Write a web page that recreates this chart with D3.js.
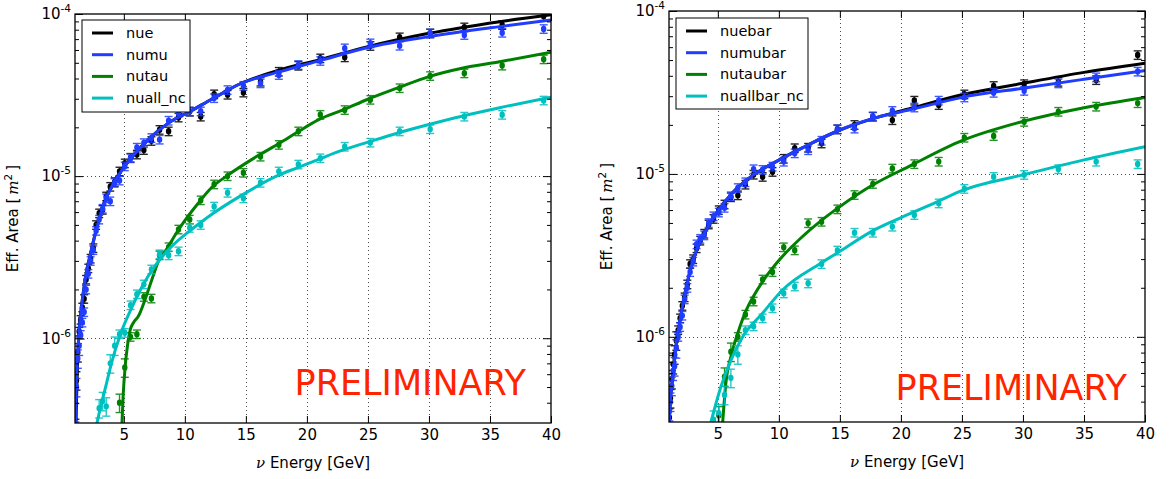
<!DOCTYPE html>
<html>
<head>
<meta charset="utf-8">
<script src="https://cdn.jsdelivr.net/npm/d3@7"></script>
<style>
  body { margin: 0; background: #fff; }
  text { font-family: "DejaVu Sans", sans-serif; }
</style>
</head>
<body>
<svg id="chart" width="1169" height="479"></svg>
<script>
// Bin centres [GeV], shared by both panels
const energies = [1.03, 1.12, 1.23, 1.34, 1.46, 1.60, 1.75, 1.91, 2.09, 2.28, 2.50, 2.73, 2.98, 3.26, 3.56, 3.89, 4.25, 4.65, 5.08, 5.55, 6.07, 6.64, 7.26, 7.93, 8.67, 9.48, 10.4, 11.3, 12.4, 13.5, 14.8, 16.2, 17.7, 19.3, 21.1, 23.1, 25.2, 27.6, 30.1, 32.9, 36.0, 39.4];

// Left panel: neutrinos, measured points (null = no point)
const nuePts = [2.8e-7, 5.5e-7, 8.2e-7, 1.1e-6, 1.3e-6, 1.55e-6, 1.75e-6, 2.3e-6, 2.7e-6, 3.1e-6, 3.6e-6, 5.0e-6, 5.9e-6, 6.2e-6, 7.5e-6, 8.6e-6, 9.2e-6, 1.07e-5, 1.2e-5, 1.3e-5, 1.36e-5, 1.45e-5, 1.65e-5, 1.93e-5, 1.89e-5, 2.3e-5, 2.5e-5, 2.33e-5, 3.2e-5, 3.18e-5, 3.28e-5, 3.83e-5, 4.41e-5, 4.8e-5, 5.33e-5, 5.41e-5, 6.36e-5, 7.19e-5, 7.6e-5, 8.28e-5, 8.56e-5, 9.7e-5];
const numuPts = [3.5e-7, 5.0e-7, 7.5e-7, 9.0e-7, 1.05e-6, 1.25e-6, 1.45e-6, 2.0e-6, 2.5e-6, 3.0e-6, 3.5e-6, 4.6e-6, 5.4e-6, 6.3e-6, 7.3e-6, 7.0e-6, 9.1e-6, 9.4e-6, 1.15e-5, 1.29e-5, 1.5e-5, 1.6e-5, 1.72e-5, 1.68e-5, 2.2e-5, 2.45e-5, 2.51e-5, 2.51e-5, 3.03e-5, 3.4e-5, 3.61e-5, 3.74e-5, 4.21e-5, 4.85e-5, 5.14e-5, 6.15e-5, 6.6e-5, 6.38e-5, 7.6e-5, 7.43e-5, 7.67e-5, 8.09e-5];
const nutauPts = [null, null, null, null, null, null, null, null, null, null, null, null, null, null, null, null, null, 4.0e-7, 6.6e-7, 1.02e-6, 1.06e-6, 1.8e-6, 1.76e-6, 3.25e-6, 3.65e-6, 4.69e-6, 5.4e-6, 7.1e-6, 8.9e-6, 1.0e-5, 1.05e-5, 1.32e-5, 1.56e-5, 1.89e-5, 2.39e-5, 2.56e-5, 2.96e-5, 3.49e-5, 4.15e-5, 4.31e-5, 4.81e-5, 5.26e-5];
const nuallNcPts = [null, null, null, null, null, null, null, null, null, null, null, null, 3.7e-7, 4.1e-7, 3.8e-7, 7.0e-7, 9.0e-7, 1.06e-6, 1.08e-6, 1.6e-6, 1.87e-6, 2.15e-6, 2.66e-6, 3.3e-6, 3.25e-6, 3.44e-6, 4.8e-6, 5.0e-6, 6.5e-6, 7.9e-6, 7.3e-6, 9.1e-6, 1.07e-5, 1.18e-5, 1.29e-5, 1.52e-5, 1.61e-5, 1.89e-5, 1.95e-5, 2.33e-5, 2.39e-5, 2.93e-5];

// Left panel: fitted curves
const nueFitE = [1.06, 1.15, 1.3, 1.55, 1.84, 2.3, 3.0, 3.5, 4.0, 4.85, 6.0, 7.0, 8.67, 10.4, 12.2, 14.5, 17.8, 21.0, 25.0, 30.0, 35.8, 40];
const nueFitV = [2.5e-7, 5.0e-7, 1.0e-6, 1.6e-6, 2.3e-6, 3.4e-6, 5.5e-6, 7.2e-6, 8.7e-6, 1.1e-5, 1.4e-5, 1.68e-5, 2.13e-5, 2.5e-5, 2.98e-5, 3.7e-5, 4.52e-5, 5.21e-5, 6.29e-5, 7.6e-5, 8.97e-5, 9.9e-5];
const numuFitE = [1.03, 1.1, 1.3, 1.55, 1.84, 2.3, 3.0, 3.5, 4.0, 4.85, 6.0, 7.0, 8.67, 10.4, 12.2, 14.5, 17.8, 21.0, 25.0, 30.0, 35.8, 40];
const numuFitV = [2.5e-7, 5.0e-7, 1.0e-6, 1.6e-6, 2.3e-6, 3.4e-6, 5.4e-6, 7.1e-6, 8.6e-6, 1.09e-5, 1.4e-5, 1.68e-5, 2.13e-5, 2.5e-5, 2.98e-5, 3.7e-5, 4.41e-5, 5.14e-5, 6.21e-5, 7.25e-5, 8.36e-5, 9.18e-5];
const nutauFitE = [4.85, 4.95, 5.12, 5.3, 5.53, 5.8, 6.2, 6.75, 7.3, 7.85, 8.5, 9.32, 10.14, 11.23, 12.19, 13.41, 15.87, 17.78, 19.14, 20.97, 22.96, 25.0, 27.4, 30.0, 32.7, 35.8, 40];
const nutauFitV = [3.0e-7, 4.5e-7, 6.8e-7, 9.0e-7, 1.13e-6, 1.25e-6, 1.37e-6, 1.74e-6, 2.3e-6, 3.0e-6, 3.53e-6, 4.47e-6, 5.5e-6, 7.0e-6, 8.5e-6, 1.0e-5, 1.32e-5, 1.6e-5, 1.85e-5, 2.23e-5, 2.56e-5, 2.98e-5, 3.49e-5, 4.11e-5, 4.63e-5, 5.08e-5, 5.81e-5];
const nuallNcFitE = [2.8, 3.0, 3.48, 4.03, 4.71, 5.66, 6.48, 7.57, 8.94, 10.57, 11.9, 14.5, 17.78, 19.14, 20.97, 22.96, 25.0, 27.4, 30.0, 32.7, 35.8, 40];
const nuallNcFitV = [3.0e-7, 3.5e-7, 4.9e-7, 7.2e-7, 1.05e-6, 1.55e-6, 2.07e-6, 2.8e-6, 3.7e-6, 4.7e-6, 5.6e-6, 7.5e-6, 1.02e-5, 1.12e-5, 1.27e-5, 1.45e-5, 1.62e-5, 1.84e-5, 2.08e-5, 2.34e-5, 2.64e-5, 3.07e-5];

// Right panel: antineutrinos, measured points
const nuebarPts = [3.2e-7, 4.2e-7, 5.5e-7, 6.8e-7, 7.8e-7, 9.5e-7, 1.1e-6, 1.3e-6, 1.55e-6, 1.75e-6, 2.1e-6, 2.8e-6, 3.0e-6, 3.5e-6, 3.9e-6, 4.3e-6, 4.9e-6, 5.3e-6, 6.0e-6, 6.5e-6, 7.2e-6, 7.4e-6, 8.6e-6, 9.9e-6, 9.6e-6, 1.03e-5, 1.24e-5, 1.44e-5, 1.45e-5, 1.54e-5, 1.88e-5, 2.0e-5, 2.25e-5, 2.14e-5, 2.82e-5, 2.65e-5, 3.08e-5, 3.47e-5, 3.56e-5, 3.68e-5, 3.77e-5, 5.37e-5];
const numubarPts = [3.5e-7, 4.0e-7, 5.0e-7, 6.2e-7, 6.6e-7, 8.5e-7, 1.0e-6, 1.15e-6, 1.35e-6, 1.7e-6, 2.0e-6, 2.5e-6, 2.9e-6, 3.7e-6, 4.0e-6, 4.2e-6, 5.0e-6, 5.5e-6, 5.8e-6, 6.2e-6, 7.3e-6, 8.2e-6, 8.9e-6, 1.07e-5, 1.06e-5, 1.11e-5, 1.19e-5, 1.34e-5, 1.4e-5, 1.6e-5, 1.88e-5, 1.9e-5, 2.25e-5, 2.44e-5, 2.56e-5, 2.82e-5, 2.95e-5, 3.15e-5, 3.24e-5, 3.6e-5, 3.92e-5, 4.25e-5];
const nutaubarPts = [null, null, null, null, null, null, null, null, null, null, null, null, null, null, null, null, null, 2.5e-7, 3.3e-7, 5.7e-7, 8.1e-7, 1.0e-6, 1.37e-6, 1.65e-6, 2.25e-6, 2.5e-6, 3.55e-6, 3.4e-6, 4.99e-6, 5.09e-6, 6.07e-6, 7.43e-6, 8.69e-6, 1.08e-5, 1.15e-5, 1.19e-5, 1.67e-5, 1.71e-5, 2.09e-5, 2.41e-5, 2.59e-5, 2.72e-5];
const nuallbarNcPts = [null, null, null, null, null, null, null, null, null, null, null, null, null, null, null, null, null, 3.1e-7, 3.4e-7, 4.4e-7, 5.6e-7, 7.8e-7, 1.1e-6, 1.16e-6, 1.3e-6, 1.5e-6, 1.85e-6, 2.04e-6, 2.13e-6, 2.8e-6, 3.39e-6, 4.36e-6, 4.36e-6, 4.75e-6, 5.6e-6, 6.6e-6, 8.1e-6, 9.6e-6, 9.87e-6, 1.07e-5, 1.19e-5, 1.15e-5];

// Right panel: fitted curves
const nuebarFitE = [1.02, 1.1, 1.25, 1.4, 1.63, 1.85, 2.25, 2.94, 3.76, 4.85, 6.22, 7.86, 10.04, 11.96, 15.0, 18.3, 21.0, 25.0, 30.0, 35.0, 40];
const nuebarFitV = [3.0e-7, 4.0e-7, 5.2e-7, 6.6e-7, 9.5e-7, 1.2e-6, 1.75e-6, 2.9e-6, 4.1e-6, 5.7e-6, 7.7e-6, 9.8e-6, 1.22e-5, 1.45e-5, 1.86e-5, 2.25e-5, 2.55e-5, 3.06e-5, 3.6e-5, 4.2e-5, 4.78e-5];
const numubarFitE = nuebarFitE;
const numubarFitV = [3.0e-7, 4.0e-7, 5.2e-7, 6.6e-7, 9.5e-7, 1.2e-6, 1.75e-6, 2.9e-6, 4.1e-6, 5.7e-6, 7.7e-6, 9.8e-6, 1.22e-5, 1.45e-5, 1.86e-5, 2.25e-5, 2.5e-5, 2.95e-5, 3.36e-5, 3.81e-5, 4.31e-5];
const nutaubarFitE = [5.4, 5.67, 6.08, 6.63, 7.31, 7.91, 8.7, 10.1, 11.74, 13.65, 15.0, 17.75, 20.75, 25, 30, 35, 40];
const nutaubarFitV = [3.0e-7, 5.3e-7, 7.6e-7, 1.05e-6, 1.45e-6, 1.77e-6, 2.2e-6, 3.0e-6, 4.0e-6, 5.3e-6, 6.3e-6, 8.6e-6, 1.12e-5, 1.6e-5, 2.1e-5, 2.55e-5, 2.95e-5];
const nuallbarNcFitE = [4.44, 5.26, 6.08, 7.04, 8.68, 10.3, 13.4, 15.0, 17.75, 20.75, 22.7, 25, 30, 35, 40];
const nuallbarNcFitV = [3.0e-7, 4.95e-7, 7.2e-7, 1.0e-6, 1.4e-6, 1.94e-6, 2.82e-6, 3.35e-6, 4.5e-6, 5.7e-6, 6.6e-6, 7.9e-6, 9.87e-6, 1.22e-5, 1.47e-5];

// Axis values
const xTickValues = [5, 10, 15, 20, 25, 30, 35, 40];
const yMajorTicks = [1e-6, 1e-5, 1e-4];
const yMinorTicks = [4e-7, 5e-7, 6e-7, 7e-7, 8e-7, 9e-7, 2e-6, 3e-6, 4e-6, 5e-6, 6e-6, 7e-6, 8e-6, 9e-6, 2e-5, 3e-5, 4e-5, 5e-5, 6e-5, 7e-5, 8e-5, 9e-5];

const colors = { black: "#000000", blue: "#1f3cff", green: "#008000", cyan: "#00bfbf" };

const svg = d3.select("#chart");

const panels = [
    {
        id: "nu", left: 75, right: 551, top: 14, bottom: 423,
        legend: { x: 82, y: 20, w: 108, h: 92 },
        prelim: { x: 526, y: 395 },
        series: [
            { name: "nue", color: colors.black, pts: nuePts, fitE: nueFitE, fitV: nueFitV },
            { name: "numu", color: colors.blue, pts: numuPts, fitE: numuFitE, fitV: numuFitV },
            { name: "nutau", color: colors.green, pts: nutauPts, fitE: nutauFitE, fitV: nutauFitV },
            { name: "nuall_nc", color: colors.cyan, pts: nuallNcPts, fitE: nuallNcFitE, fitV: nuallNcFitV }
        ]
    },
    {
        id: "nubar", left: 669, right: 1145, top: 11, bottom: 422,
        legend: { x: 676, y: 18, w: 132, h: 91 },
        prelim: { x: 1127, y: 400 },
        series: [
            { name: "nuebar", color: colors.black, pts: nuebarPts, fitE: nuebarFitE, fitV: nuebarFitV },
            { name: "numubar", color: colors.blue, pts: numubarPts, fitE: numubarFitE, fitV: numubarFitV },
            { name: "nutaubar", color: colors.green, pts: nutaubarPts, fitE: nutaubarFitE, fitV: nutaubarFitV },
            { name: "nuallbar_nc", color: colors.cyan, pts: nuallbarNcPts, fitE: nuallbarNcFitE, fitV: nuallbarNcFitV }
        ]
    }
];

panels.forEach(drawPanel);

function drawPanel(p) {
    const x = d3.scaleLinear().domain([1, 40]).range([p.left, p.right]);
    const y = d3.scaleLog().domain([3e-7, 1e-4]).range([p.bottom, p.top]);

    const g = svg.append("g");

    // clip region for the data
    svg.append("clipPath").attr("id", "clip-" + p.id)
        .append("rect")
        .attr("x", p.left).attr("y", p.top)
        .attr("width", p.right - p.left).attr("height", p.bottom - p.top);

    // dotted grid
    const grid = g.append("g")
        .attr("stroke", "#000")
        .attr("stroke-width", 1)
        .attr("stroke-dasharray", "1,3")
        .attr("opacity", 0.7);
    grid.selectAll("line.gx")
        .data(xTickValues.filter(d => d < 40))
        .join("line")
        .attr("class", "gx")
        .attr("x1", d => Math.round(x(d)) + 0.5).attr("x2", d => Math.round(x(d)) + 0.5)
        .attr("y1", p.top).attr("y2", p.bottom);
    grid.selectAll("line.gy")
        .data(yMajorTicks.filter(d => d < 1e-4))
        .join("line")
        .attr("class", "gy")
        .attr("x1", p.left).attr("x2", p.right)
        .attr("y1", d => Math.round(y(d)) + 0.5).attr("y2", d => Math.round(y(d)) + 0.5);

    const plot = g.append("g").attr("clip-path", `url(#clip-${p.id})`);

    const line = d3.line()
        .x(d => x(d[0]))
        .y(d => y(d[1]))
        .curve(d3.curveMonotoneX);

    p.series.forEach(s => {
        const pts = energies
            .map((e, i) => ({ e: e, v: s.pts[i] }))
            .filter(d => d.v != null);
        // relative error bar size: larger for the low-statistics points
        const err = d => d.v * (d.v < 1e-6 ? 0.13 : 0.06);

        const sg = plot.append("g");
        const bars = sg.append("g")
            .attr("stroke", s.color)
            .attr("stroke-width", 1.4)
            .attr("opacity", 0.85);
        bars.selectAll("line.bar")
            .data(pts)
            .join("line")
            .attr("class", "bar")
            .attr("x1", d => x(d.e)).attr("x2", d => x(d.e))
            .attr("y1", d => y(d.v + err(d))).attr("y2", d => y(d.v - err(d)));
        bars.selectAll("line.capTop")
            .data(pts)
            .join("line")
            .attr("class", "capTop")
            .attr("x1", d => x(d.e) - 4).attr("x2", d => x(d.e) + 4)
            .attr("y1", d => y(d.v + err(d))).attr("y2", d => y(d.v + err(d)));
        bars.selectAll("line.capBot")
            .data(pts)
            .join("line")
            .attr("class", "capBot")
            .attr("x1", d => x(d.e) - 4).attr("x2", d => x(d.e) + 4)
            .attr("y1", d => y(d.v - err(d))).attr("y2", d => y(d.v - err(d)));
        sg.selectAll("ellipse")
            .data(pts)
            .join("ellipse")
            .attr("cx", d => x(d.e))
            .attr("cy", d => y(d.v))
            .attr("rx", 2.7).attr("ry", 3.2)
            .attr("fill", s.color);

        sg.append("path")
            .datum(d3.zip(s.fitE, s.fitV))
            .attr("d", line)
            .attr("fill", "none")
            .attr("stroke", s.color)
            .attr("stroke-width", 3)
            .attr("stroke-linejoin", "round");
    });

    // axes: inside ticks on all four sides
    const xAxis = g.append("g")
        .attr("transform", `translate(0,${p.bottom})`)
        .call(d3.axisBottom(x).tickValues(xTickValues).tickSizeInner(-7).tickSizeOuter(0).tickPadding(6).tickFormat(d3.format("d")));
    xAxis.selectAll("text").attr("font-size", 15).attr("fill", "#000").attr("font-family", "DejaVu Sans");

    g.append("g")
        .attr("transform", `translate(0,${p.top})`)
        .call(d3.axisTop(x).tickValues(xTickValues).tickSizeInner(-7).tickSizeOuter(0).tickFormat(""));

    const yAxis = g.append("g")
        .attr("transform", `translate(${p.left},0)`)
        .call(d3.axisLeft(y).tickValues(yMajorTicks).tickSizeInner(-8).tickSizeOuter(0).tickPadding(4));
    yAxis.selectAll(".tick text").each(function (d) {
        const t = d3.select(this).text(null)
            .attr("font-size", 15).attr("fill", "#000").attr("font-family", "DejaVu Sans");
        t.append("tspan").text("10");
        t.append("tspan").attr("font-size", 10.5).attr("dy", -7).text(Math.round(Math.log10(d)));
    });
    g.append("g")
        .attr("transform", `translate(${p.left},0)`)
        .call(d3.axisLeft(y).tickValues(yMinorTicks).tickSizeInner(-4).tickSizeOuter(0).tickFormat(""));
    g.append("g")
        .attr("transform", `translate(${p.right},0)`)
        .call(d3.axisRight(y).tickValues(yMajorTicks).tickSizeInner(-8).tickSizeOuter(0).tickFormat(""));
    g.append("g")
        .attr("transform", `translate(${p.right},0)`)
        .call(d3.axisRight(y).tickValues(yMinorTicks).tickSizeInner(-4).tickSizeOuter(0).tickFormat(""));
    g.selectAll(".domain").remove();
    g.selectAll(".tick line").attr("stroke", "#000").attr("stroke-width", 1);

    // frame
    g.append("rect")
        .attr("x", p.left).attr("y", p.top)
        .attr("width", p.right - p.left).attr("height", p.bottom - p.top)
        .attr("fill", "none").attr("stroke", "#000").attr("stroke-width", 1.3);

    // axis labels
    const xl = g.append("text")
        .attr("x", (p.left + p.right) / 2).attr("y", p.bottom + 45)
        .attr("text-anchor", "middle").attr("font-size", 15);
    xl.append("tspan").attr("font-family", "DejaVu Serif").attr("font-style", "italic").text("\u03bd");
    xl.append("tspan").text(" Energy [GeV]");

    const yl = g.append("text")
        .attr("transform", `translate(${p.left - 57},${(p.top + p.bottom) / 2}) rotate(-90)`)
        .attr("text-anchor", "middle").attr("font-size", 15);
    yl.append("tspan").text("Eff. Area [\u2009");
    yl.append("tspan").attr("font-family", "DejaVu Serif").attr("font-style", "italic").text("m");
    yl.append("tspan").attr("font-size", 10.5).attr("dy", -6).text("2");
    yl.append("tspan").attr("dy", 6).text("\u2009]");

    // PRELIMINARY stamp
    g.append("text")
        .attr("x", p.prelim.x).attr("y", p.prelim.y)
        .attr("text-anchor", "end")
        .attr("font-family", "Liberation Sans, Arial, sans-serif")
        .attr("font-size", 35)
        .attr("fill", "#ff2400")
        .text("PRELIMINARY");

    // legend
    const lg = g.append("g").attr("transform", `translate(${p.legend.x},${p.legend.y})`);
    lg.append("rect")
        .attr("width", p.legend.w).attr("height", p.legend.h)
        .attr("fill", "#fff").attr("stroke", "#000").attr("stroke-width", 1);
    const rows = lg.selectAll("g.row")
        .data(p.series)
        .join("g")
        .attr("class", "row")
        .attr("transform", (d, i) => `translate(0,${13 + i * 21.7})`);
    rows.append("line")
        .attr("x1", 10).attr("x2", 31)
        .attr("stroke", d => d.color).attr("stroke-width", 3);
    rows.append("text")
        .attr("x", 44).attr("dy", "0.35em")
        .attr("font-size", 14.5)
        .text(d => d.name);
}
</script>
</body>
</html>
